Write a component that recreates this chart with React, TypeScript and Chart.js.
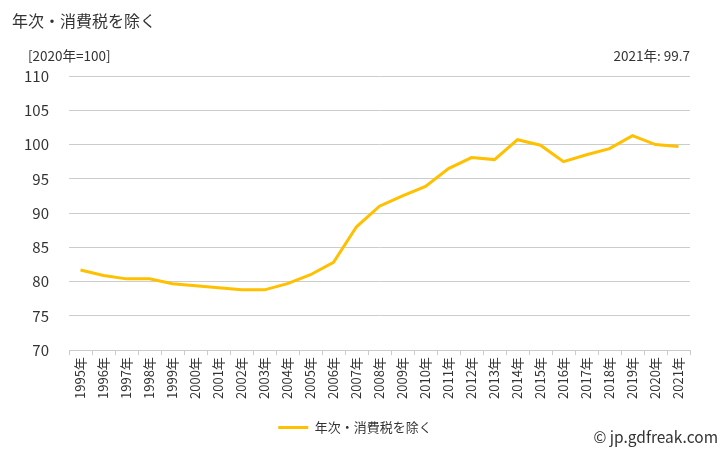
import React, { useEffect, useRef } from "react";
import { Chart, registerables } from "chart.js";

Chart.register(...registerables);

const years: string[] = [
  "1995年", "1996年", "1997年", "1998年", "1999年", "2000年", "2001年", "2002年", "2003年",
  "2004年", "2005年", "2006年", "2007年", "2008年", "2009年", "2010年", "2011年", "2012年",
  "2013年", "2014年", "2015年", "2016年", "2017年", "2018年", "2019年", "2020年", "2021年",
];

const values: number[] = [
  81.7, 80.9, 80.4, 80.4, 79.7, 79.4, 79.1, 78.8, 78.8,
  79.7, 81.0, 82.8, 88.0, 91.0, 92.5, 93.9, 96.5, 98.1,
  97.8, 100.7, 99.9, 97.5, 98.5, 99.4, 101.3, 100.0, 99.7,
];

const seriesName = "年次・消費税を除く";
const FONT = "'Noto Sans CJK JP', 'Noto Sans', sans-serif";

const App: React.FC = () => {
  const canvas = useRef<HTMLCanvasElement>(null);
  const chart = useRef<Chart<"line">>();

  useEffect(() => {
    chart.current = new Chart(canvas.current!.getContext("2d")!, {
      type: "line",
      data: {
        labels: years,
        datasets: [
          {
            label: seriesName,
            data: values,
            borderColor: "#ffc000",
            backgroundColor: "#ffc000",
            borderWidth: 3,
            pointRadius: 0,
            tension: 0,
          },
        ],
      },
      options: {
        responsive: false,
        animation: false,
        layout: { padding: { left: 20, right: 38, top: 76, bottom: 6 } },
        scales: {
          x: {
            offset: true,
            grid: {
              offset: true,
              drawOnChartArea: false,
              drawTicks: true,
              tickLength: 5,
              color: "#cccccc",
            },
            border: { color: "#cccccc", dash: [1, 1] },
            ticks: {
              color: "#333",
              font: { family: FONT, size: 13 },
              maxRotation: 90,
              minRotation: 90,
              autoSkip: false,
              padding: 2,
            },
          },
          y: {
            min: 70,
            max: 110,
            afterFit: (scale) => {
              scale.width = 49;
            },
            grid: { color: "#cccccc", drawTicks: false },
            border: { display: false },
            ticks: {
              stepSize: 5,
              color: "#333",
              font: { family: FONT, size: 15 },
              padding: 20,
            },
          },
        },
        plugins: {
          legend: {
            position: "bottom",
            labels: {
              usePointStyle: true,
              pointStyle: "line",
              pointStyleWidth: 30,
              color: "#333",
              font: { family: FONT, size: 13 },
              padding: 20,
            },
          },
          tooltip: { enabled: false },
        },
      },
    });

    return () => {
      chart.current?.destroy();
    };
  }, []);

  return (
    <div
      style={{
        position: "fixed",
        left: 0,
        top: 0,
        width: 728,
        height: 450,
        background: "#fff",
        fontFamily: FONT,
        color: "#333",
      }}
    >
      <canvas ref={canvas} width={728} height={450}></canvas>
      <div style={{ position: "absolute", left: 12, top: 8, fontSize: 16 }}>{seriesName}</div>
      <div style={{ position: "absolute", left: 28, top: 45, fontSize: 13.5 }}>[2020年=100]</div>
      <div style={{ position: "absolute", right: 38, top: 45, fontSize: 13.5 }}>2021年: 99.7</div>
      <div style={{ position: "absolute", right: 10, top: 425, fontSize: 15.5 }}>© jp.gdfreak.com</div>
    </div>
  );
};

export default App;
